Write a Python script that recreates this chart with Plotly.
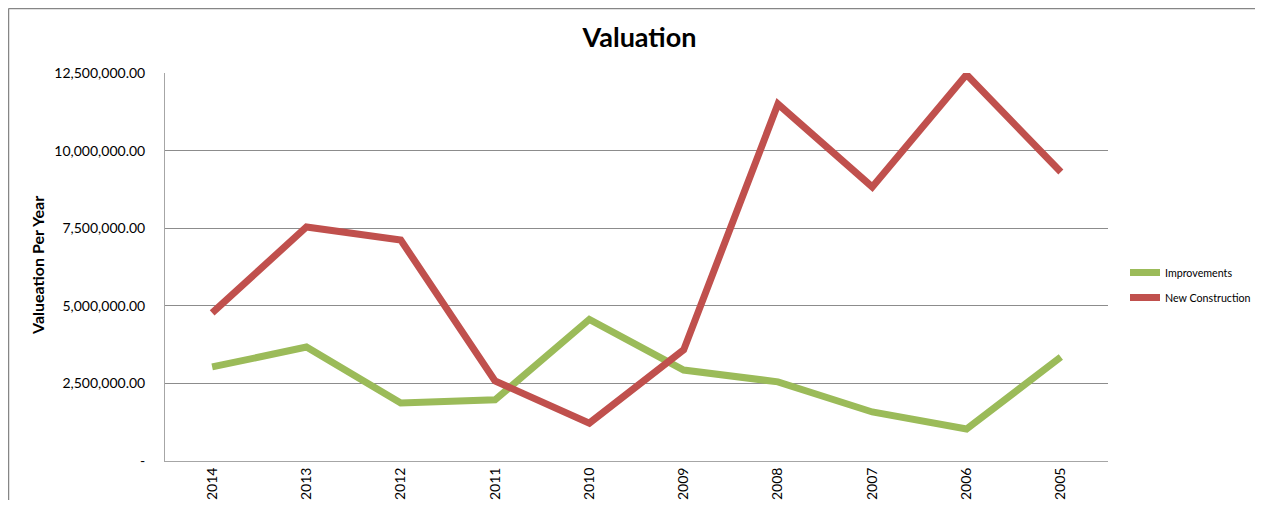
import plotly.graph_objects as go

years = ["2014", "2013", "2012", "2011", "2010", "2009", "2008", "2007", "2006", "2005"]
improvements = [3030000, 3670000, 1870000, 1970000, 4560000, 2930000, 2550000, 1580000, 1030000, 3350000]
new_construction = [4770000, 7540000, 7120000, 2580000, 1220000, 3580000, 11500000, 8830000, 12450000, 9310000]
y_tickvals = [0, 2500000, 5000000, 7500000, 10000000, 12500000]
y_ticktext = ["-", "2,500,000.00", "5,000,000.00", "7,500,000.00", "10,000,000.00", "12,500,000.00"]

FONT = "Lato, Open Sans, sans-serif"
GRID = "#8c8c8c"

# page body has an 8px margin: figure origin sits at (8, 8) in the screenshot
OX, OY = 8, 8
W, H = 1263 - 2 * OX, 508 - 2 * OY
L, T, PW, PH = 165 - OX, 73 - OY, 943, 388
R, B = W - L - PW, H - T - PH

fig = go.Figure()
fig.add_trace(go.Scatter(x=years, y=improvements, name="Improvements", mode="lines",
                         legendgroup="a", line=dict(color="#9BBB59", width=7)))
fig.add_trace(go.Scatter(x=years, y=new_construction, name="New Construction", mode="lines",
                         legendgroup="b", line=dict(color="#C0504D", width=7)))

fig.update_layout(
    width=W, height=H,
    margin=dict(l=L, r=R, t=T, b=B, autoexpand=False),
    paper_bgcolor="white", plot_bgcolor="white",
    font=dict(family=FONT, color="black", size=14),
    title=dict(text="<b>Valuation</b>", x=0.5 + 3 / PW, xref="paper", xanchor="center",
               y=1 - (38 - OY) / H, yref="container", yanchor="middle",
               font=dict(size=27, family=FONT, color="black")),
    showlegend=True,
    legend=dict(x=(1125 - 165) / PW, xanchor="left", y=(461 - 285) / PH, yanchor="middle",
                font=dict(size=10.7, family=FONT, color="black"),
                bgcolor="rgba(0,0,0,0)", traceorder="grouped", tracegroupgap=6, itemwidth=30),
    xaxis=dict(type="category", range=[-0.5, 9.5], tickangle=-90, automargin=False,
               showgrid=False, showline=True, linecolor="#a6a6a6", linewidth=1,
               ticks="", tickfont=dict(size=14, family=FONT), fixedrange=True),
    yaxis=dict(range=[0, 12500000], tickvals=y_tickvals, ticktext=y_ticktext, automargin=False,
               showgrid=True, gridcolor=GRID, gridwidth=1,
               showline=True, linecolor="#a6a6a6", linewidth=1,
               ticks="", ticklabelstandoff=16, zeroline=False,
               tickfont=dict(size=14, family=FONT)),
)

fig.add_annotation(text="<b>Valueation Per Year</b>", textangle=-90,
                   xref="paper", yref="paper", x=(37 - 165) / PW, y=(461 - 266) / PH,
                   xanchor="center", yanchor="middle", showarrow=False,
                   font=dict(size=16, family=FONT, color="black"))

# outer chart frame (top and left edges visible)
fy = 1 + (T - 0.5) / PH
fx = (0.5 - L) / PW
fig.add_shape(type="line", xref="paper", yref="paper",
              x0=fx, x1=(W + 20 - L) / PW, y0=fy, y1=fy,
              line=dict(color="#868686", width=1.5))
fig.add_shape(type="line", xref="paper", yref="paper",
              x0=fx, x1=fx, y0=fy, y1=-0.3,
              line=dict(color="#868686", width=1.5))

fig.write_html("out.html")
